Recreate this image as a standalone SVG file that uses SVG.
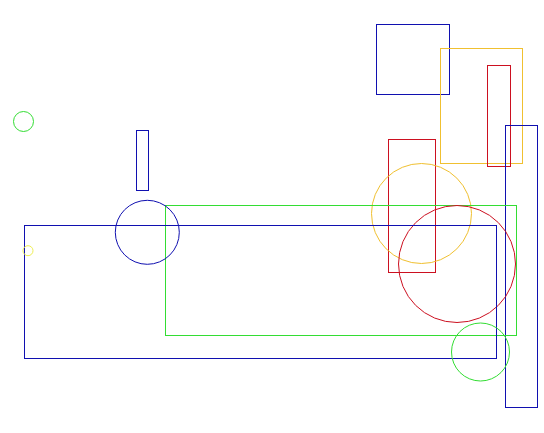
<svg xmlns="http://www.w3.org/2000/svg" width="544" height="433" viewBox="0 0 544 433">
<style>
.s{fill:none;stroke-width:1}
.b{stroke:#1010b0}
.r{stroke:#cc1020}
.g{stroke:#33dd33}
.o{stroke:#f0c030}
.y{stroke:#eeee55}
</style>
<rect width="544" height="433" fill="#ffffff"/>
<rect class="s b" x="376.5" y="24.5" width="73" height="70"/>
<rect class="s o" x="440.5" y="48.5" width="82" height="115"/>
<rect class="s r" x="487.5" y="65.5" width="23" height="101"/>
<rect class="s b" x="505.5" y="125.5" width="32" height="282"/>
<rect class="s r" x="388.5" y="139.5" width="47" height="133"/>
<circle class="s o" cx="421.5" cy="213.5" r="50"/>
<rect class="s g" x="165.5" y="205.5" width="351" height="130"/>
<circle class="s r" cx="457" cy="264" r="58.5"/>
<rect class="s b" x="24.5" y="225.5" width="472" height="133"/>
<circle class="s g" cx="480.5" cy="352" r="29"/>
<circle class="s g" cx="23.5" cy="121.5" r="10"/>
<rect class="s b" x="136.5" y="130.5" width="12" height="60"/>
<circle class="s b" cx="147.3" cy="232.3" r="32"/>
<circle class="s y" cx="28" cy="250.7" r="5"/>
</svg>
